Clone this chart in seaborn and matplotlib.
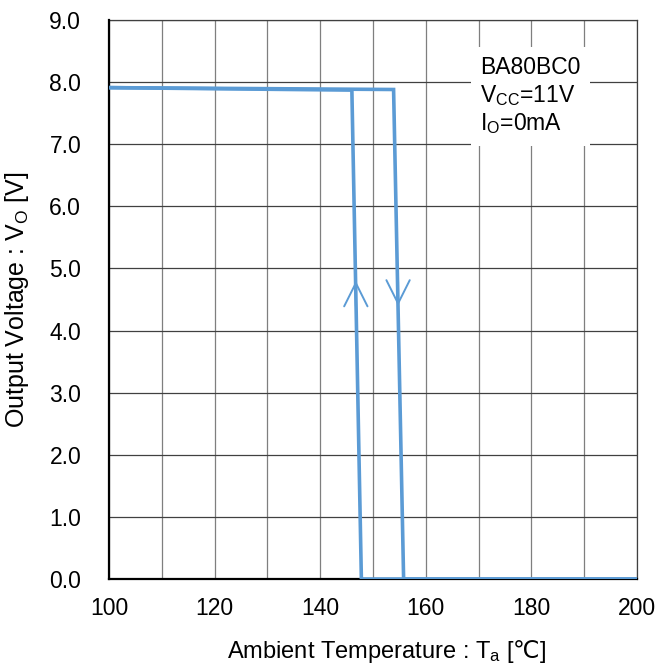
import matplotlib

matplotlib.use('Agg')

import matplotlib.pyplot as plt
import numpy as np
import pandas as pd
import seaborn as sns
from matplotlib.ticker import FormatStrFormatter, MultipleLocator

# heating sweep (output drops at thermal shutdown) and cooling sweep (recovery)
heat_temp = [100, 153.9, 155.8, 200]
heat_vout = [7.91, 7.88, 0.0, 0.0]
cool_temp = [200, 147.8, 146.0, 100]
cool_vout = [0.0, 0.0, 7.87, 7.91]

# direction arrows on the two vertical edges
arrow_temp = [146.75, 154.75]
arrow_tail = [4.40, 4.78]
arrow_head = [4.80, 4.40]

x_ticks = [100, 120, 140, 160, 180, 200]
label_lines = ["BA80BC0", "V$_\\mathrm{CC}$=11V", "I$_\\mathrm{O}$=0mA"]

LINE_COLOR = '#5b9bd5'
FS = 16.5

sns.set_theme(style='white')
plt.rcParams['font.family'] = ['Liberation Sans', 'DejaVu Sans']
plt.rcParams['text.color'] = 'black'
plt.rcParams['axes.labelcolor'] = 'black'
plt.rcParams['mathtext.fontset'] = 'custom'
plt.rcParams['mathtext.rm'] = 'Liberation Sans'
plt.rcParams['mathtext.it'] = 'Liberation Sans'
# Liberation has no degree-Celsius sign, take it from DejaVu
plt.rcParams['mathtext.sf'] = 'DejaVu Sans'

fig = plt.figure(figsize=(6.55, 6.64), dpi=100)
ax = fig.add_axes([0.1664, 0.128, 0.8061, 0.842])

heat_df = pd.DataFrame({'temp': heat_temp, 'vout': heat_vout})
cool_df = pd.DataFrame({'temp': cool_temp, 'vout': cool_vout})
sns.lineplot(data=heat_df, x='temp', y='vout', sort=False, color=LINE_COLOR,
             linewidth=2.6, ax=ax, zorder=5, solid_joinstyle='miter')
sns.lineplot(data=cool_df, x='temp', y='vout', sort=False, color=LINE_COLOR,
             linewidth=2.6, ax=ax, zorder=5, solid_joinstyle='miter')

for t, y0, y1 in zip(arrow_temp, arrow_tail, arrow_head):
    ax.annotate('', xy=(t, y1), xytext=(t, y0),
                arrowprops=dict(arrowstyle='->,head_length=1.4,head_width=0.7',
                                color=LINE_COLOR, lw=1.4, shrinkA=0, shrinkB=0),
                zorder=6)

ax.set_xlim(100, 200)
ax.set_ylim(0, 9)
ax.set_xticks(x_ticks)
ax.xaxis.set_minor_locator(MultipleLocator(10))
ax.yaxis.set_major_locator(MultipleLocator(1))
ax.yaxis.set_major_formatter(FormatStrFormatter('%.1f'))
ax.grid(which='both', axis='x', color='#7f7f7f', linewidth=0.9)
ax.grid(which='major', axis='y', color='#404040', linewidth=0.9)
ax.set_axisbelow(True)
ax.tick_params(axis='both', which='both', length=0, labelsize=FS, colors='black')
ax.tick_params(axis='x', pad=13)
ax.tick_params(axis='y', pad=20)

for side in ['top', 'right']:
    ax.spines[side].set_color('#404040')
    ax.spines[side].set_linewidth(0.9)
for side in ['left', 'bottom']:
    ax.spines[side].set_color('black')
    ax.spines[side].set_linewidth(1.6)
    ax.spines[side].set_zorder(4)

ax.set_xlabel('Ambient Temperature : T$_\\mathrm{a}$ [$\\mathsf{\u2103}$]', fontsize=17,
              color='black', labelpad=13)
ax.xaxis.label.set_x(0.525)
ax.set_ylabel('Output Voltage : V$_\\mathrm{O}$ [V]', fontsize=18, color='black', labelpad=13)

ax.text(170.3, 8.42, '\n'.join(label_lines), fontsize=FS, va='top', ha='left',
        linespacing=1.2, zorder=7, color='black',
        bbox=dict(facecolor='white', edgecolor='none', pad=7))

fig.savefig('out.png', dpi=100)
